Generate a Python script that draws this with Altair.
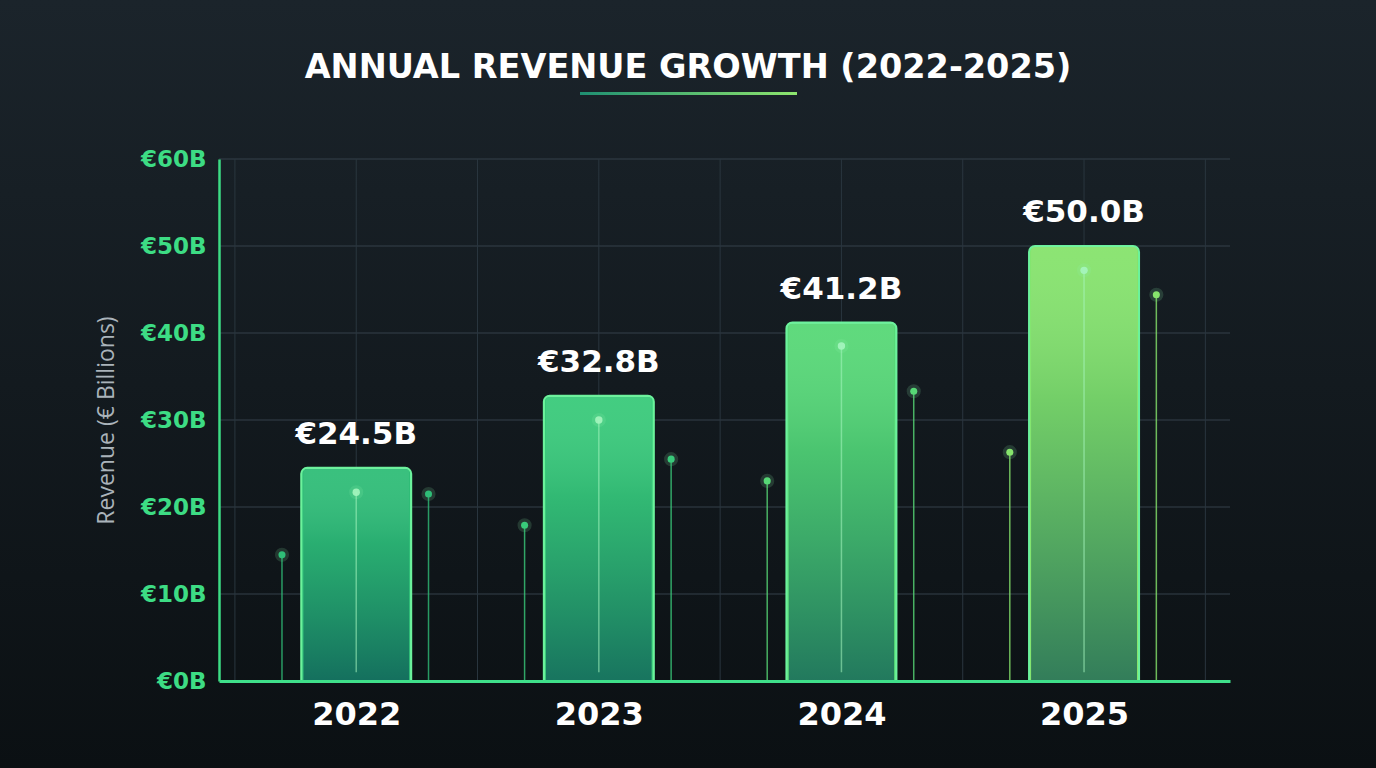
import altair as alt
import pandas as pd

# ---- data ----
title_text = "ANNUAL REVENUE GROWTH (2022-2025)"
years = ["2022", "2023", "2024", "2025"]
revenue = [24.5, 32.8, 41.2, 50.0]
value_labels = ["€24.5B", "€32.8B", "€41.2B", "€50.0B"]
bar_colors = ["#2fbd77", "#39ca7a", "#57d876", "#86e36c"]
y_ticks = [0, 10, 20, 30, 40, 50, 60]

# decorative stems (year index, offset within step, kind, height in € billions)
stem_year = [0, 0, 0, 1, 1, 1, 2, 2, 2, 3, 3, 3]
stem_offset = [-0.306, 0.0, 0.298] * 4
stem_kind = ["side", "center", "side"] * 4
stem_value = [14.5, 21.7, 21.5, 17.9, 30.0, 25.5, 23.0, 38.5, 33.3, 26.3, 47.2, 44.4]

W, H = 1011, 522
PAD = {"left": 219, "top": 159, "right": 146, "bottom": 87}
XDOM = [-0.545, 3.581]
FONT = "DejaVu Sans"

bars = pd.DataFrame({
    "idx": list(range(len(years))),
    "year": years,
    "revenue": revenue,
    "label": value_labels,
})
stems = pd.DataFrame({
    "x": [stem_year[i] + stem_offset[i] for i in range(len(stem_year))],
    "year": [years[i] for i in stem_year],
    "kind": stem_kind,
    "value": stem_value,
})
hgrid = pd.DataFrame({"v": y_ticks[1:]})
vgrid = pd.DataFrame({"x": [i * 0.5 - 0.5 for i in range(2 * len(years) + 1)]})

xscale = alt.Scale(domain=XDOM, nice=False, zero=False)
yscale = alt.Scale(domain=[0, 60], nice=False)
cscale = alt.Scale(domain=years, range=bar_colors)

year_arr = "[" + ",".join("'" + y + "'" for y in years) + "]"
x_axis = alt.Axis(
    values=[i * 0.5 - 0.5 for i in range(2 * len(years) + 1)],
    labelExpr="(datum.value % 1 == 0 && datum.value >= 0) ? " + year_arr + "[datum.value] : ''",
    labelColor="#ffffff", labelFontSize=32, labelFont=FONT, labelFontWeight="bold",
    labelPadding=18, ticks=False, grid=False, domain=True, domainColor="#3fe08a",
    domainWidth=3, title=None, labelOverlap=False, zindex=1,
)
y_axis = alt.Axis(
    values=y_ticks, labelExpr="'€' + datum.value + 'B'",
    labelColor="#3ddc84", labelFontSize=23, labelFont=FONT, labelFontWeight="bold",
    labelPadding=13, ticks=False, grid=False, domain=True, domainColor="#3ddc84",
    domainWidth=2.5, title="Revenue (€ Billions)", titleColor="#aab3ba",
    titleFontSize=23, titleFont="Open Sans", titleFontWeight="normal", titlePadding=22,
    zindex=1,
)

bg = alt.Chart(alt.Data(values=[{}])).mark_rect(
    fill={"gradient": "linear", "x1": 0, "y1": 0, "x2": 0, "y2": 1,
          "stops": [{"offset": 0, "color": "#1b242b"}, {"offset": 0.5, "color": "#131a1f"},
                    {"offset": 1, "color": "#0b1013"}]}
).encode(x=alt.value(-PAD["left"]), x2=alt.value(W + PAD["right"]),
         y=alt.value(-PAD["top"]), y2=alt.value(H + PAD["bottom"]))

hg = alt.Chart(hgrid).mark_rule(color="#34414b", strokeWidth=1).encode(
    y=alt.Y("v:Q", scale=yscale, axis=y_axis)
)
vg = alt.Chart(vgrid).mark_rule(color="#2a363f", strokeWidth=1).encode(
    x=alt.X("x:Q", scale=xscale, axis=x_axis)
)

base = alt.Chart(bars).encode(
    x=alt.X("idx:Q", scale=xscale, axis=x_axis),
    y=alt.Y("revenue:Q", scale=yscale, axis=y_axis),
)
color_enc = alt.Color("year:N", scale=cscale, legend=None)

glow = base.mark_bar(size=112, fillOpacity=0, strokeWidth=14, strokeOpacity=0.13,
                     cornerRadiusTopLeft=8, cornerRadiusTopRight=8).encode(
    stroke=alt.Stroke("year:N", scale=cscale, legend=None))
bar = base.mark_bar(size=110, cornerRadiusTopLeft=6, cornerRadiusTopRight=6,
                    stroke="#6cf29c", strokeWidth=2).encode(color=color_enc)
shade = base.mark_bar(
    size=106, cornerRadiusTopLeft=5, cornerRadiusTopRight=5,
    fill={"gradient": "linear", "x1": 0, "y1": 0, "x2": 0, "y2": 1,
          "stops": [{"offset": 0, "color": "rgba(255,255,255,0.05)"},
                    {"offset": 0.35, "color": "rgba(10,90,80,0.15)"},
                    {"offset": 1, "color": "rgba(6,70,80,0.65)"}]}
)

stem_base = alt.Chart(stems).encode(
    x=alt.X("x:Q", scale=xscale, axis=x_axis),
    y=alt.Y("value:Q", scale=yscale, axis=y_axis),
)
side_rule = stem_base.transform_filter("datum.kind == 'side'").mark_rule(
    strokeWidth=1.5, opacity=0.8).encode(y2=alt.datum(0), color=color_enc)
center_rule = stem_base.transform_filter("datum.kind == 'center'").mark_rule(
    strokeWidth=1.5, color="#a5f5bf", opacity=0.55).encode(y2=alt.datum(1))
stem_halo = stem_base.mark_circle(size=200, opacity=0.16, color="#8ff5b0")
side_dot = stem_base.transform_filter("datum.kind == 'side'").mark_circle(
    size=50, opacity=1).encode(color=color_enc)
center_dot = stem_base.transform_filter("datum.kind == 'center'").mark_circle(
    size=55, opacity=0.9, color="#a5f5bf")

text = base.mark_text(dy=-33, fontSize=31, font=FONT, fontWeight="bold",
                      color="#ffffff").encode(text="label:N")

title = alt.Chart(alt.Data(values=[{"t": title_text}])).mark_text(
    fontSize=33.5, font=FONT, fontWeight="bold", color="#ffffff", baseline="middle", align="center"
).encode(text="t:N", x=alt.value(688 - PAD["left"]), y=alt.value(68 - PAD["top"]))

underline = alt.Chart(alt.Data(values=[{}])).mark_rect(
    fill={"gradient": "linear", "x1": 0, "y1": 0, "x2": 1, "y2": 0,
          "stops": [{"offset": 0, "color": "#1f8f72"}, {"offset": 1, "color": "#8ee66e"}]}
).encode(x=alt.value(580 - PAD["left"]), x2=alt.value(797 - PAD["left"]),
         y=alt.value(92 - PAD["top"]), y2=alt.value(95 - PAD["top"]))

chart = alt.layer(
    bg, hg, vg, glow, bar, shade, stem_halo, side_rule, center_rule, side_dot, center_dot,
    text, title, underline
).properties(
    width=W, height=H,
    autosize="none",
    padding=PAD,
    background="#12181d",
).configure_view(stroke=None)

chart.save("out.html", embed_options={"renderer": "svg", "actions": False})
